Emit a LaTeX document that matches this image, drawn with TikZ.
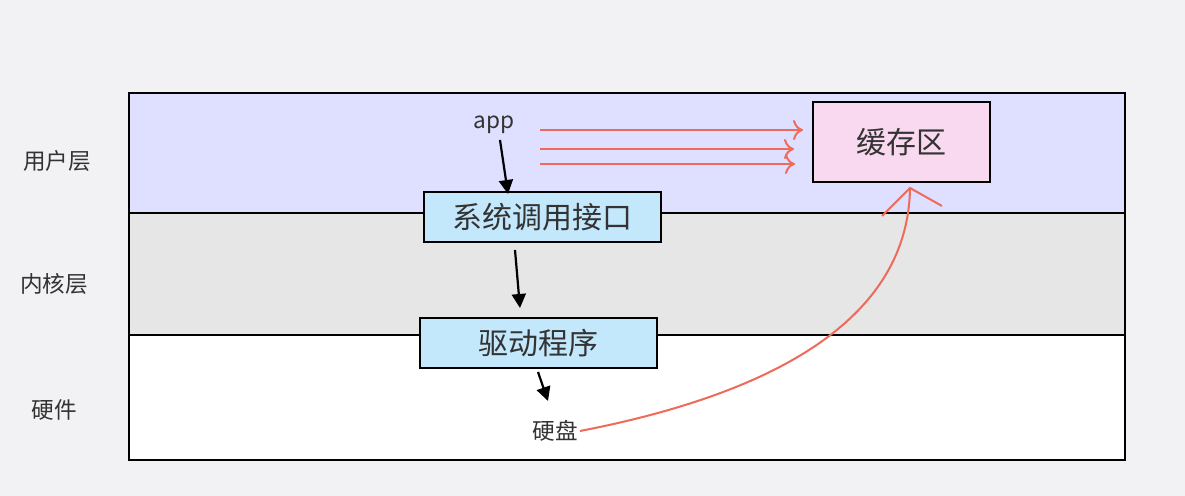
\documentclass[tikz,border=0pt]{standalone}
\usepackage{fontspec}
\setmainfont{Noto Sans CJK SC}
\usetikzlibrary{arrows.meta}
\definecolor{bgc}{HTML}{F2F2F4}
\definecolor{userc}{HTML}{DFDFFF}
\definecolor{kernc}{HTML}{E6E6E6}
\definecolor{boxc}{HTML}{C3E8FC}
\definecolor{pinkc}{HTML}{F9D9F0}
\definecolor{redc}{HTML}{EE6A5A}
\definecolor{txtc}{HTML}{333333}
\tikzset{
  layer/.style={draw=black, line width=1.2pt},
  sysbox/.style={draw=black, line width=1.2pt, fill=boxc, minimum width=118.5pt, minimum height=25pt, inner sep=0pt, font=\fontsize{15}{17}\selectfont, text=txtc},
  cachebox/.style={draw=black, line width=1.2pt, fill=pinkc, minimum width=88.5pt, minimum height=40pt, inner sep=0pt, font=\fontsize{15}{17}\selectfont, text=txtc},
  lbl/.style={font=\fontsize{11.3}{13}\selectfont, text=txtc, inner sep=1pt},
  blk/.style={-{Triangle[length=7pt,width=7pt]}, line width=1.1pt},
  redarr/.style={-{To[length=5pt,width=10pt]}, draw=redc, line width=1pt},
}
\begin{document}
\begin{tikzpicture}[x=0.5pt,y=-0.5pt]
\fill[bgc] (0,0) rectangle (1185,496);
\useasboundingbox (0,0) rectangle (1185,496);
\filldraw[layer, fill=userc] (129,93) rectangle (1125,213);
\filldraw[layer, fill=kernc] (129,213) rectangle (1125,335);
\filldraw[layer, fill=white] (129,335) rectangle (1125,460);
\node[lbl] (l1) at (57,161) {用户层};
\node[lbl] (l2) at (54,284) {内核层};
\node[lbl] (l3) at (54,410) {硬件};
\node[sysbox] (sys) at (542.5,217) {系统调用接口};
\node[sysbox] (drv) at (538.5,343) {驱动程序};
\node[cachebox] (cache) at (901.5,142) {缓存区};
\node[lbl] (app) at (494,125) {app};
\node[lbl] (disk) at (555,431) {硬盘};
\coordinate (a1) at (500,140);
\coordinate (a2) at (508,194);
\coordinate (b1) at (515,250);
\coordinate (b2) at (520,308);
\coordinate (c1) at (538,372);
\coordinate (c2) at (548,401);
\draw[blk] (a1) -- (a2);
\draw[blk] (b1) -- (b2);
\draw[blk] (c1) -- (c2);
\coordinate (r1s) at (540,130); \coordinate (r1e) at (803,130);
\coordinate (r2s) at (540,149); \coordinate (r2e) at (794,149);
\coordinate (r3s) at (540,164); \coordinate (r3e) at (795,164);
\draw[redarr] (r1s) -- (r1e);
\draw[redarr] (r2s) -- (r2e);
\draw[redarr] (r3s) -- (r3e);
\coordinate (ds) at (580,431);
\coordinate (ce) at (910,188);
\draw[redc, line width=1pt] (ds) .. controls (740,400) and (908,335) .. (ce);
\draw[redc, line width=1pt] (882,216) -- (ce) -- (942,206);
\end{tikzpicture}
\end{document}
